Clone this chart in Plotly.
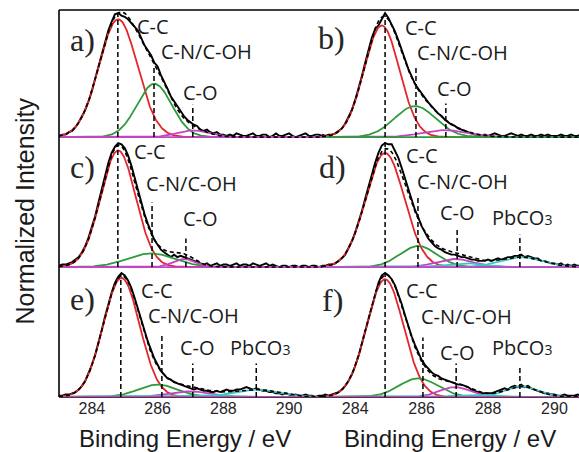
import numpy as np
import plotly.graph_objects as go

# Binding-energy grid of the measured C 1s spectra (eV)
energy = np.round(np.arange(283.0, 291.0001, 0.1), 1)

# Measured, normalised C 1s intensities for the six samples
spec_a = [0.01, 0.02, 0.02, 0.04, 0.05, 0.08, 0.12, 0.17, 0.22, 0.29,
          0.37, 0.47, 0.57, 0.67, 0.77, 0.86, 0.93, 0.99, 1.00, 0.98,
          0.97, 0.95, 0.92, 0.89, 0.86, 0.80, 0.74, 0.70, 0.66, 0.60,
          0.57, 0.50, 0.45, 0.39, 0.33, 0.29, 0.24, 0.20, 0.17, 0.14,
          0.12, 0.10, 0.09, 0.06, 0.05, 0.06, 0.04, 0.03, 0.04, 0.02,
          0.02, 0.01, 0.02, 0.01, 0.03, 0.02, 0.01, 0.01, 0.02, 0.03,
          0.01, 0.01, 0.02, 0.02, 0.00, 0.01, 0.03, 0.01, 0.01, 0.02,
          0.03, 0.01, 0.00, 0.01, 0.02, 0.03, 0.01, 0.01, 0.02, 0.02, 0.01]
spec_b = [0.02, 0.01, 0.02, 0.02, 0.03, 0.05, 0.07, 0.11, 0.16, 0.22,
          0.30, 0.39, 0.49, 0.60, 0.71, 0.80, 0.87, 0.90, 0.95, 1.00,
          0.96, 0.91, 0.85, 0.78, 0.70, 0.62, 0.55, 0.49, 0.43, 0.39,
          0.35, 0.31, 0.28, 0.25, 0.22, 0.19, 0.17, 0.14, 0.12, 0.10,
          0.09, 0.07, 0.06, 0.05, 0.04, 0.03, 0.02, 0.02, 0.01, 0.02,
          0.01, 0.02, 0.03, 0.02, 0.01, 0.01, 0.02, 0.03, 0.02, 0.01,
          0.02, 0.01, 0.01, 0.02, 0.01, 0.01, 0.02, 0.01, 0.02, 0.01,
          0.01, 0.01, 0.02, 0.01, 0.01, 0.02, 0.01, 0.01, 0.02, 0.01, 0.01]
spec_c = [0.01, 0.02, 0.02, 0.03, 0.04, 0.06, 0.08, 0.12, 0.17, 0.24,
          0.32, 0.41, 0.52, 0.63, 0.74, 0.84, 0.92, 0.97, 1.00, 0.99,
          0.96, 0.90, 0.82, 0.72, 0.62, 0.52, 0.43, 0.35, 0.28, 0.22,
          0.18, 0.14, 0.12, 0.10, 0.08, 0.10, 0.08, 0.09, 0.08, 0.07,
          0.06, 0.05, 0.04, 0.03, 0.02, 0.03, 0.01, 0.02, 0.03, 0.01,
          0.02, 0.02, 0.01, 0.02, 0.03, 0.01, 0.02, 0.02, 0.01, 0.03,
          0.02, 0.01, 0.02, 0.03, 0.01, 0.02, 0.01, 0.00, 0.01, 0.01,
          0.00, 0.01, 0.01, 0.00, 0.01, 0.01, 0.00, 0.01, 0.01, 0.00, 0.01]
spec_d = [0.01, 0.01, 0.02, 0.02, 0.03, 0.05, 0.07, 0.10, 0.15, 0.21,
          0.28, 0.36, 0.45, 0.55, 0.65, 0.75, 0.84, 0.92, 0.98, 1.00,
          0.99, 0.99, 0.94, 0.88, 0.80, 0.71, 0.62, 0.54, 0.46, 0.40,
          0.33, 0.28, 0.23, 0.20, 0.17, 0.15, 0.14, 0.12, 0.11, 0.10,
          0.10, 0.09, 0.08, 0.08, 0.07, 0.06, 0.06, 0.05, 0.05, 0.05,
          0.06, 0.05, 0.06, 0.07, 0.06, 0.07, 0.08, 0.08, 0.09, 0.09,
          0.10, 0.08, 0.09, 0.08, 0.07, 0.07, 0.05, 0.05, 0.04, 0.03,
          0.03, 0.02, 0.03, 0.01, 0.02, 0.01, 0.02, 0.01, 0.01, 0.01, 0.01]
spec_e = [0.01, 0.01, 0.02, 0.02, 0.03, 0.04, 0.06, 0.09, 0.13, 0.19,
          0.26, 0.34, 0.43, 0.54, 0.65, 0.75, 0.84, 0.92, 0.97, 1.00,
          0.98, 0.94, 0.88, 0.80, 0.71, 0.62, 0.53, 0.45, 0.38, 0.31,
          0.26, 0.21, 0.18, 0.15, 0.14, 0.12, 0.11, 0.10, 0.09, 0.08,
          0.07, 0.06, 0.07, 0.06, 0.05, 0.05, 0.04, 0.04, 0.05, 0.04,
          0.05, 0.06, 0.05, 0.05, 0.06, 0.06, 0.07, 0.08, 0.07, 0.06,
          0.07, 0.06, 0.05, 0.05, 0.04, 0.04, 0.03, 0.03, 0.02, 0.03,
          0.02, 0.01, 0.02, 0.01, 0.01, 0.02, 0.01, 0.01, 0.00, 0.01, 0.01]
spec_f = [0.01, 0.02, 0.01, 0.02, 0.03, 0.04, 0.06, 0.09, 0.13, 0.18,
          0.25, 0.33, 0.43, 0.53, 0.64, 0.74, 0.84, 0.92, 0.98, 1.00,
          0.98, 0.95, 0.90, 0.83, 0.75, 0.66, 0.57, 0.49, 0.42, 0.36,
          0.30, 0.26, 0.23, 0.20, 0.18, 0.17, 0.15, 0.14, 0.13, 0.12,
          0.11, 0.10, 0.10, 0.09, 0.08, 0.06, 0.05, 0.04, 0.03, 0.03,
          0.03, 0.03, 0.04, 0.05, 0.06, 0.07, 0.06, 0.08, 0.09, 0.08,
          0.10, 0.08, 0.09, 0.07, 0.06, 0.05, 0.04, 0.03, 0.03, 0.02,
          0.02, 0.01, 0.01, 0.02, 0.01, 0.01, 0.01, 0.02, 0.01, 0.01, 0.01]

# Fitted Gaussian components: (centre / eV, height, FWHM / eV)
# order: C-C, C-N/C-OH, C-O, PbCO3, carbonate shoulder
peaks_a = [(284.8, 0.95, 1.38), (285.9, 0.43, 1.25), (287.05, 0.055, 1.1)]
peaks_b = [(284.8, 0.90, 1.25), (285.8, 0.25, 1.45), (286.7, 0.056, 1.6)]
peaks_c = [(284.8, 0.94, 1.25), (285.8, 0.11, 1.7), (286.8, 0.065, 0.8)]
peaks_d = [(284.9, 0.92, 1.36), (285.9, 0.17, 1.3), (287.0, 0.065, 1.3),
           (289.0, 0.08, 1.5), (287.3, 0.03, 1.4)]
peaks_e = [(284.9, 0.96, 1.3), (286.0, 0.10, 1.4), (287.0, 0.045, 1.5),
           (289.0, 0.06, 1.6), (287.3, 0.015, 1.4)]
peaks_f = [(284.9, 0.95, 1.3), (285.9, 0.15, 1.37), (287.0, 0.08, 1.1),
           (289.0, 0.085, 1.15), (287.5, 0.015, 1.2)]

# Assigned peak positions (eV) and the height each marker reaches
marks_a = [(284.79, 1.00), (285.89, 0.58), (287.07, 0.26)]
marks_b = [(284.90, 0.98), (285.83, 0.58), (286.73, 0.27)]
marks_c = [(284.79, 1.00), (285.83, 0.52), (286.86, 0.23)]
marks_d = [(284.90, 1.01), (285.89, 0.56), (287.07, 0.32), (288.96, 0.26)]
marks_e = [(284.88, 1.00), (286.13, 0.50), (287.07, 0.27), (289.00, 0.27)]
marks_f = [(284.90, 1.00), (286.04, 0.48), (287.04, 0.27), (288.96, 0.24)]

PB = "PbCO<span style='font-size:14px'>3</span>"
names_3 = ["C-C", "C-N/C-OH", "C-O"]
names_4 = ["C-C", "C-N/C-OH", "C-O", PB]

# label anchor points (eV, height above the panel baseline)
lab_a = [(285.86, 0.89), (287.50, 0.69), (287.29, 0.36)]
lab_b = [(285.98, 0.88), (287.22, 0.68), (287.00, 0.39)]
lab_c = [(285.77, 0.93), (287.04, 0.67), (287.29, 0.39)]
lab_d = [(286.01, 0.90), (287.22, 0.69), (287.07, 0.44), (289.02, 0.40)]
lab_e = [(285.98, 0.86), (287.10, 0.66), (287.22, 0.40), (289.11, 0.40)]
lab_f = [(286.01, 0.86), (287.34, 0.65), (287.07, 0.36), (289.02, 0.40)]

comp_colors = ["#e3262b", "#2f9a3b", "#c445c4", "#3fc3c6", "#3fc3c6"]

ROW_STEP = 1.048
panels = [
    ("a)", 1, 2, spec_a, peaks_a, marks_a, names_3, lab_a, (283.72, 0.78), "#c445c4"),
    ("b)", 2, 2, spec_b, peaks_b, marks_b, names_3, lab_b, (283.29, 0.80), "#2f9a3b"),
    ("c)", 1, 1, spec_c, peaks_c, marks_c, names_3, lab_c, (283.72, 0.81), "#c445c4"),
    ("d)", 2, 1, spec_d, peaks_d, marks_d, names_4, lab_d, (283.32, 0.81), "#c445c4"),
    ("e)", 1, 0, spec_e, peaks_e, marks_e, names_4, lab_e, (283.72, 0.79), "#c445c4"),
    ("f)", 2, 0, spec_f, peaks_f, marks_f, names_4, lab_f, (283.33, 0.78), "#c445c4"),
]

fine = np.linspace(283.0, 291.0, 401)


def gauss(x, c, h, w):
    return h * np.exp(-4 * np.log(2) * (x - c) ** 2 / w ** 2)


fig = go.Figure()
annotations = []

for tag, col, row, spec, peaks, marks, names, labs, tagpos, base_col in panels:
    xa = "x" if col == 1 else "x2"
    ya = "y" if col == 1 else "y2"
    off = row * ROW_STEP
    common = dict(xaxis=xa, yaxis=ya, mode="lines", showlegend=False, hoverinfo="skip")

    # measured spectrum
    fig.add_trace(go.Scatter(x=energy, y=np.array(spec) + off,
                             line=dict(color="black", width=1.9), **common))
    # fitted components
    total = np.zeros_like(fine)
    for (c, h, w), colr in zip(peaks, comp_colors):
        comp = gauss(fine, c, h, w)
        total += comp
        fig.add_trace(go.Scatter(x=fine, y=comp + off,
                                 line=dict(color=colr, width=1.8), **common))
    # background line
    fig.add_trace(go.Scatter(x=[283.0, 291.0], y=[off, off],
                             line=dict(color=base_col, width=1.8), **common))
    # fit envelope
    fig.add_trace(go.Scatter(x=fine, y=total + off,
                             line=dict(color="black", width=1.6, dash="4px,3px"), **common))
    # peak position markers
    for xm, top in marks:
        fig.add_trace(go.Scatter(x=[xm, xm], y=[off, off + top],
                                 line=dict(color="black", width=1.5, dash="5px,3px"), **common))
    # peak labels
    for txt, (lx, ly) in zip(names, labs):
        annotations.append(dict(xref=xa, yref=ya, x=lx, y=ly + off, text=txt,
                                showarrow=False, xanchor="center", yanchor="middle",
                                font=dict(family="Open Sans", size=20, color="#1a1a1a")))
    annotations.append(dict(xref=xa, yref=ya, x=tagpos[0], y=tagpos[1] + off, text=tag,
                            showarrow=False, xanchor="center", yanchor="middle",
                            font=dict(family="Liberation Serif", size=32, color="#262626")))

# axis titles
for xp in (0.242, 0.752):
    annotations.append(dict(xref="paper", yref="paper", x=xp, y=-0.106,
                            text="Binding Energy / eV", showarrow=False,
                            xanchor="center", yanchor="middle",
                            font=dict(family="Liberation Sans", size=24, color="#1a1a1a")))
annotations.append(dict(xref="paper", yref="paper", x=-0.065, y=0.48,
                        text="Normalized Intensity", showarrow=False, textangle=-90,
                        xanchor="center", yanchor="middle",
                        font=dict(family="Liberation Sans", size=25, color="#1a1a1a")))

tick_vals = [284, 286, 288, 290]
axis_common = dict(tickvals=tick_vals, ticktext=[str(t) for t in tick_vals],
                   showgrid=False, zeroline=False, showline=False, ticks="",
                   tickfont=dict(family="Liberation Sans", size=16, color="#262626"))
split = 263 / 520

fig.update_layout(
    width=579, height=452,
    margin=dict(l=59, r=0, t=10, b=55),
    paper_bgcolor="white", plot_bgcolor="white",
    xaxis=dict(domain=[0, split], range=[283.0, 291.0], anchor="y", **axis_common),
    xaxis2=dict(domain=[split, 1], range=[283.0, 290.74], anchor="y2", **axis_common),
    yaxis=dict(domain=[0, 1], range=[0, 3.121], visible=False, anchor="x"),
    yaxis2=dict(domain=[0, 1], range=[0, 3.121], visible=False, anchor="x2"),
    annotations=annotations,
    shapes=[
        dict(type="line", xref="paper", yref="paper", x0=0, x1=1, y0=1, y1=1,
             line=dict(color="black", width=1.6)),
        dict(type="line", xref="paper", yref="paper", x0=0, x1=0, y0=0, y1=1,
             line=dict(color="black", width=1.6)),
        dict(type="line", xref="paper", yref="paper", x0=0, x1=1, y0=0, y1=0,
             line=dict(color="black", width=1.5), layer="below"),
    ],
)

fig.write_html("out.html")
